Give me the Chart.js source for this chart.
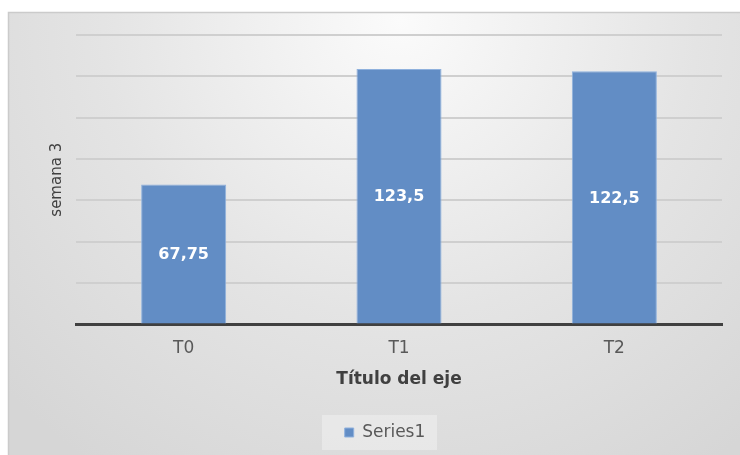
<!DOCTYPE html>
<html>
<head>
<meta charset="utf-8">
<script src="https://cdn.jsdelivr.net/npm/chart.js@4/dist/chart.umd.min.js"></script>
<style>
  html, body { margin: 0; padding: 0; background: #ffffff; }
  #wrap { width: 740px; height: 455px; }
</style>
</head>
<body>
<div id="wrap"><canvas id="c" width="740" height="455"></canvas></div>
<script>
// Chart data
const categories = ['T0', 'T1', 'T2'];
const seriesName = 'Series1';
const seriesValues = [67.75, 123.5, 122.5];
const yTicks = [0, 20, 40, 60, 80, 100, 120, 140];
const yTitle = 'semana 3';
const xTitle = 'Título del eje';

const BAR = '#628dc5';
const FONT = "'DejaVu Sans', sans-serif";

// Panel background, legend frame and in-bar value labels
const decor = {
  id: 'decor',
  beforeDraw(chart) {
    const ctx = chart.ctx;
    const W = chart.width, H = chart.height;
    ctx.save();
    ctx.fillStyle = '#ffffff';
    ctx.fillRect(0, 0, W, H);
    const g = ctx.createRadialGradient(400, 20, 0, 400, 20, 540);
    g.addColorStop(0, '#fbfbfb');
    g.addColorStop(0.55, '#e4e4e4');
    g.addColorStop(1, '#d6d6d6');
    ctx.fillStyle = g;
    ctx.fillRect(8, 12, W - 8, H - 12);
    ctx.strokeStyle = '#cbcbcb';
    ctx.lineWidth = 1.5;
    ctx.beginPath();
    ctx.moveTo(8.5, H);
    ctx.lineTo(8.5, 12.5);
    ctx.lineTo(W, 12.5);
    ctx.stroke();

    const lg = chart.legend;
    if (lg && lg.legendHitBoxes && lg.legendHitBoxes.length) {
      const hb = lg.legendHitBoxes[0];
      const cx = hb.left + hb.width / 2;
      const cy = hb.top + hb.height / 2;
      ctx.fillStyle = 'rgba(240,240,240,0.55)';
      ctx.fillRect(cx - 63, cy - 17.5, 115, 35);
    }
    ctx.restore();
  },
  afterDatasetsDraw(chart) {
    const ctx = chart.ctx;
    const meta = chart.getDatasetMeta(0);
    const data = chart.data.datasets[0].data;
    ctx.save();
    ctx.fillStyle = '#ffffff';
    ctx.font = 'bold 16px ' + FONT;
    ctx.textAlign = 'center';
    ctx.textBaseline = 'middle';
    meta.data.forEach((bar, i) => {
      const y = (bar.y + bar.base) / 2 + 1;
      ctx.fillText(String(data[i]).replace('.', ','), bar.x, y);
    });
    ctx.restore();
  }
};

new Chart(document.getElementById('c'), {
  type: 'bar',
  data: {
    labels: categories,
    datasets: [{
      label: seriesName,
      data: seriesValues,
      backgroundColor: BAR,
      borderColor: '#8fb1dd',
      borderWidth: 1,
      categoryPercentage: 1.0,
      barPercentage: 0.395
    }]
  },
  options: {
    responsive: false,
    animation: false,
    events: [],
    layout: { padding: { left: 48, right: 18, top: 35, bottom: 4 } },
    plugins: {
      tooltip: { enabled: false },
      legend: {
        position: 'bottom',
        labels: {
          boxWidth: 9,
          boxHeight: 9,
          padding: 9.5,
          color: '#595959',
          font: { family: FONT, size: 17 }
        }
      }
    },
    scales: {
      x: {
        grid: { display: false, drawTicks: false },
        border: { display: true, color: '#404040', width: 3 },
        ticks: { color: '#595959', padding: 14, font: { family: FONT, size: 17 } },
        title: {
          display: true,
          text: xTitle,
          color: '#404040',
          font: { family: FONT, size: 17, weight: 'bold' },
          padding: { top: 0, bottom: 25 }
        },
        afterFit(scale) { scale.height = 90; }
      },
      y: {
        min: yTicks[0],
        max: yTicks[yTicks.length - 1],
        afterBuildTicks(scale) { scale.ticks = yTicks.map(v => ({ value: v })); },
        ticks: { display: false },
        grid: { color: '#cfcfcf', lineWidth: 2, drawTicks: false },
        border: { display: false },
        title: {
          display: true,
          text: yTitle,
          color: '#404040',
          font: { family: FONT, size: 15 },
          padding: { top: 0, bottom: 0 }
        },
        afterFit(scale) { scale.width = 28; }
      }
    }
  },
  plugins: [decor]
});
</script>
</body>
</html>
